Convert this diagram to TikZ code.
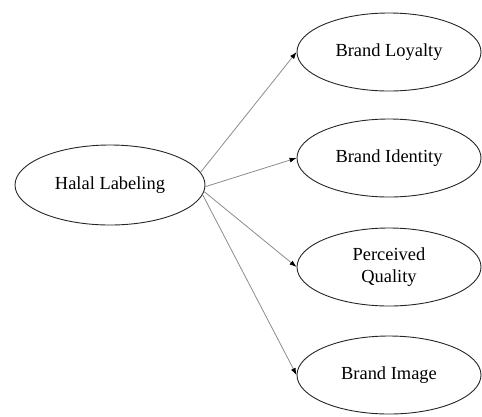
\documentclass[tikz,border=0pt]{standalone}
\usepackage{fontspec}
\setmainfont{Liberation Serif}
\usetikzlibrary{shapes.geometric,arrows.meta}
\begin{document}
\begin{tikzpicture}[x=1bp,y=-1bp,
  oval/.style={ellipse,draw=black!85,line width=0.9bp,inner sep=0pt,
    minimum width=184bp,minimum height=78bp,font=\fontsize{18.5}{22}\selectfont,align=center},
  link/.style={draw=black!45,line width=0.8bp,-{Latex[length=7bp,width=5bp,fill=black,color=black]}}]
\useasboundingbox (0,0) rectangle (482,416);
\node[oval,minimum width=190bp,minimum height=80bp] (hl) at (110,185) {Halal Labeling};
\node[oval] (bl) at (389,52) {Brand Loyalty};
\node[oval] (bi) at (389,158) {Brand Identity};
\node[oval] (pq) at (389,267) {Perceived\\Quality};
\node[oval] (bim) at (389,375) {Brand Image};
\draw[link] (hl.8) -- (bl.west);
\draw[link] (hl.-1) -- (bi.west);
\draw[link] (hl.-4) -- (pq.west);
\draw[link] (hl.-6) -- (bim.west);
\end{tikzpicture}
\end{document}
